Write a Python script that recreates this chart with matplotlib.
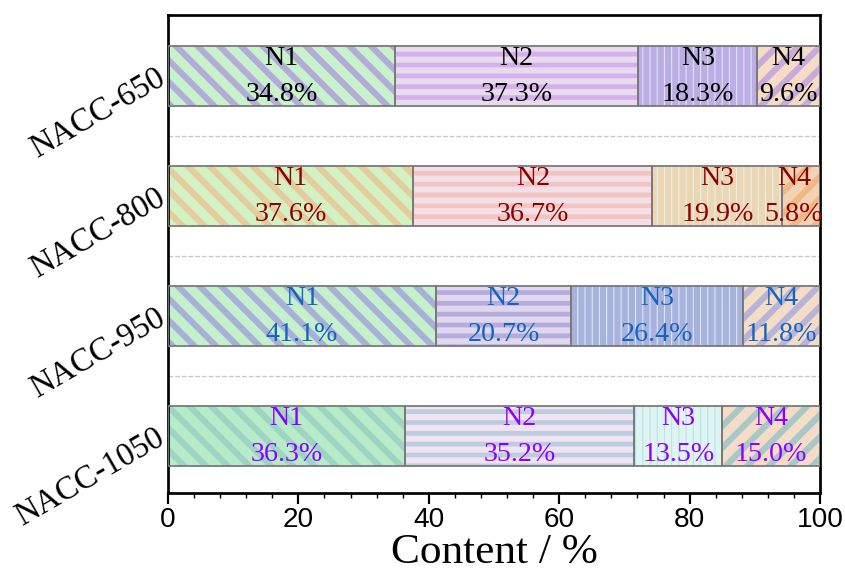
import matplotlib
matplotlib.use("Agg")
import matplotlib.pyplot as plt
import numpy as np

# data
samples = ["NACC-650", "NACC-800", "NACC-950", "NACC-1050"]
species = ["N1", "N2", "N3", "N4"]
content = [
    [34.8, 37.3, 18.3, 9.6],
    [37.6, 36.7, 19.9, 5.8],
    [41.1, 20.7, 26.4, 11.8],
    [36.3, 35.2, 13.5, 15.0],
]
text_colors = ["black", "#8b0000", "#1464c0", "#8c00ff"]

# fill / stripe colours for every segment (row = sample, col = species)
face_colors = [
    ["#c8f2cc", "#d6b0ee", "#dce6f8", "#f6dcc4"],
    ["#d2f2c4", "#f4c4c0", "#e2f4f0", "#f4d2b4"],
    ["#c4f0cc", "#b4acdc", "#d8ecf8", "#f4dcc6"],
    ["#b8ecc8", "#bccede", "#b4e6e6", "#f4dcc6"],
]
stripe_colors = [
    ["#b4acd8", "#e6dcee", "#bcaee4", "#c8aadc"],
    ["#e4cc9c", "#f2dfe8", "#ecd6b4", "#f0b884"],
    ["#a8b0d8", "#e0d6ee", "#a8b2dc", "#b8b4d8"],
    ["#9ed4c4", "#f0e4f2", "#e0f4f4", "#a8c8c8"],
]
hatches = ["\\\\", "--", "|||", "//"]

plt.rcParams["hatch.linewidth"] = 3.4
serif = ["Liberation Serif", "DejaVu Serif"]
sans = ["Liberation Sans Narrow", "Liberation Sans", "DejaVu Sans"]

fig = plt.figure(figsize=(845 / 130, 581 / 130), dpi=130)
ax = fig.add_axes([168 / 845, 1 - 493 / 581, 652 / 845, 478 / 581])

y = np.arange(len(samples))
bar_h = 0.5
for i in range(len(samples)):
    left = 0.0
    for j in range(len(species)):
        w = content[i][j]
        ax.barh(y[i], w, left=left, height=bar_h, color=face_colors[i][j],
                edgecolor=stripe_colors[i][j], hatch=hatches[j], linewidth=0, zorder=2)
        ax.barh(y[i], w, left=left, height=bar_h, facecolor="none",
                edgecolor="#7a7a7a", linewidth=1.0, zorder=3)
        cx = min(left + w / 2, 96.0)
        ax.text(cx, y[i] - 0.15, species[j], ha="center", va="center",
                fontsize=15.5, family=serif, color=text_colors[i], zorder=4)
        ax.text(cx, y[i] + 0.15, f"{w:.1f}%", ha="center", va="center",
                fontsize=15.5, family=serif, color=text_colors[i], zorder=4)
        left += w

for sep in [0.5, 1.5, 2.5]:
    ax.axhline(sep, color="#c8c8c8", linestyle="--", linewidth=0.7, zorder=1)

ax.set_xlim(0, 100)
ax.set_ylim(3.475, -0.51)
ax.set_yticks(y)
ax.set_yticklabels(samples, rotation=30, ha="right", va="center",
                   fontsize=18, family=serif, rotation_mode="anchor")
ax.set_xticks(np.arange(0, 101, 20))
ax.set_xticks(np.arange(0, 101, 4), minor=True)
ax.tick_params(axis="x", which="major", direction="out", length=6, width=1.2,
               labelsize=15.5, pad=2)
ax.tick_params(axis="x", which="minor", direction="out", length=3, width=0.8)
ax.tick_params(axis="y", which="major", direction="in", length=4, width=1.0,
               pad=3, right=True)
for lab in ax.get_xticklabels():
    lab.set_family(sans)

ax.set_xlabel("Content / %", fontsize=24, family=serif, labelpad=0)

for s in ax.spines.values():
    s.set_linewidth(1.5)
    s.set_color("black")

fig.savefig("out.png", dpi=130)
